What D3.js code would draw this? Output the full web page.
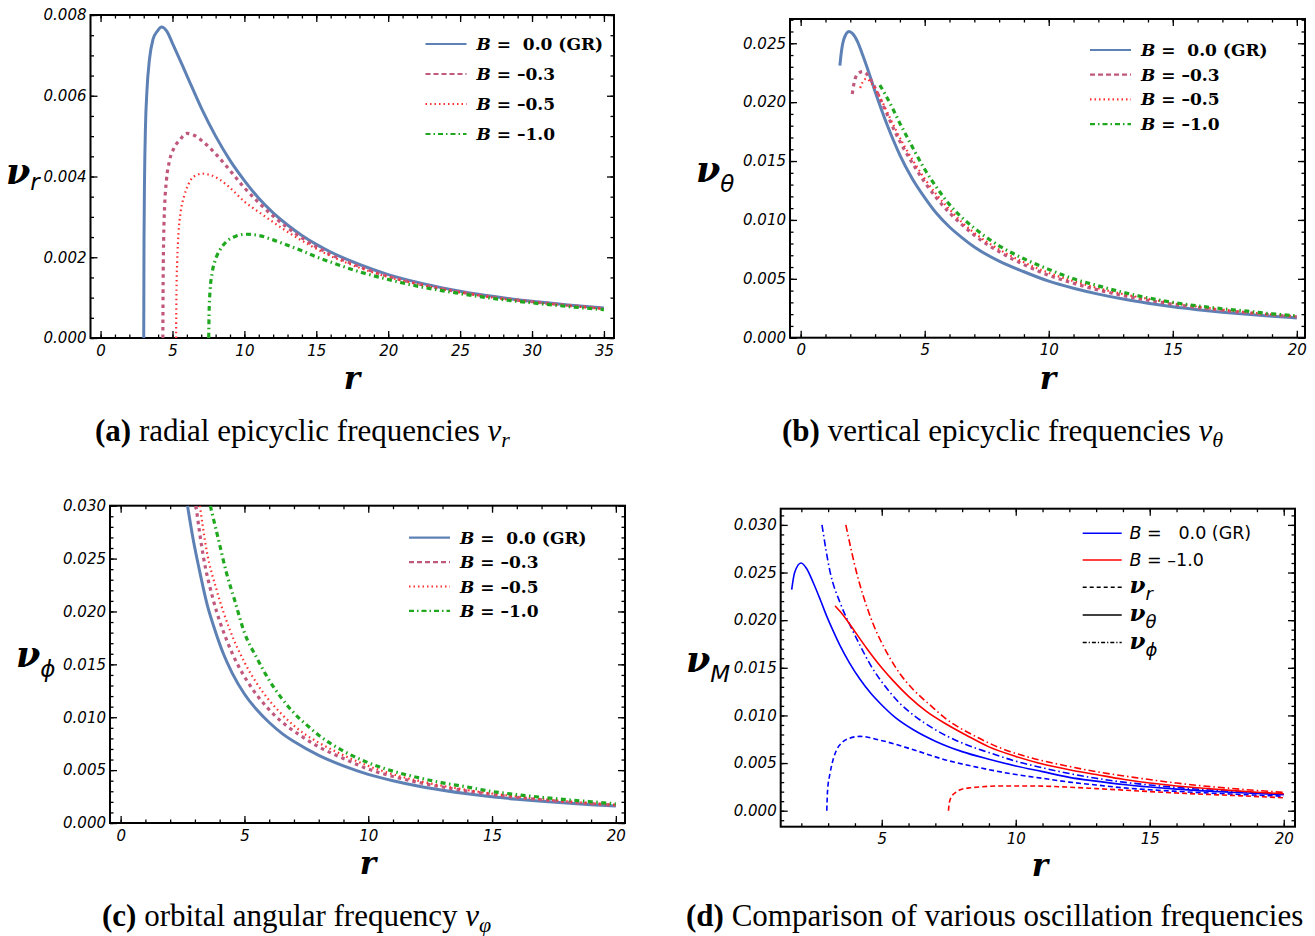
<!DOCTYPE html>
<html>
<head>
<meta charset="utf-8">
<script src="https://cdn.jsdelivr.net/npm/d3@7"></script>
<style>
  body { margin: 0; background: #fff; }
  svg { display: block; }
</style>
</head>
<body>
<script>
var W = 1315, H = 936;

// ---- data: [r, value] ----
// (a) radial epicyclic frequency nu_r
var radialB00 = [[3.0,0],[3.02,0.0024],[3.06,0.004],[3.12,0.0052],[3.22,0.0061],[3.4,0.0069],[3.65,0.0074],[3.95,0.0076],[4.24,0.0077],[4.6,0.0076],[5,0.0073],[6,0.0065],[7,0.0057],[8,0.005],[9,0.0044],[10,0.0039],[11,0.00346],[12,0.0031],[13,0.0028],[14,0.00254],[15,0.00232],[16,0.00213],[18,0.00182],[20,0.00157],[22.5,0.00134],[25,0.00116],[27.5,0.00102],[30,0.00091],[32.5,0.00082],[35,0.00074]];
var radialB03 = [[4.33,0],[4.35,0.0014],[4.39,0.0025],[4.46,0.0033],[4.58,0.0039],[4.8,0.0044],[5.1,0.0047],[5.5,0.0049],[6,0.00507],[6.5,0.00502],[7,0.0049],[8,0.00456],[9,0.00415],[10,0.00372],[11,0.00335],[12,0.00302],[13,0.00273],[14,0.00248],[15,0.00226],[16,0.00207],[18,0.00177],[20,0.00153],[22.5,0.00131],[25,0.00114],[27.5,0.001],[30,0.0009],[32.5,0.00081],[35,0.00073]];
var radialB05 = [[5.25,0],[5.28,0.0012],[5.33,0.0019],[5.42,0.0026],[5.56,0.0031],[5.8,0.0035],[6.1,0.0038],[6.5,0.004],[7.1,0.00407],[7.6,0.00404],[8.3,0.00392],[9,0.00372],[10,0.00338],[11,0.00312],[12,0.00287],[13,0.00263],[14,0.00241],[15,0.00221],[16,0.00203],[18,0.00174],[20,0.00151],[22.5,0.0013],[25,0.00113],[27.5,0.00099],[30,0.00089],[32.5,0.0008],[35,0.00072]];
var radialB10 = [[7.52,0],[7.55,0.0007],[7.62,0.0012],[7.75,0.0016],[7.95,0.0019],[8.3,0.00218],[8.8,0.0024],[9.4,0.00252],[10.1,0.00257],[11,0.00254],[12,0.00243],[13,0.0023],[14,0.00216],[15,0.00201],[16,0.00188],[18,0.00164],[20,0.00145],[22.5,0.00125],[25,0.0011],[27.5,0.00097],[30,0.00087],[32.5,0.00078],[35,0.0007]];

// (b) vertical epicyclic frequency nu_theta
var vertB00 = [[1.58,0.0231],[1.65,0.0244],[1.75,0.0254],[1.95,0.026],[2.1,0.0258],[2.3,0.0251],[2.5,0.024],[2.75,0.0225],[3,0.0209],[3.25,0.0194],[3.5,0.018],[3.75,0.0167],[4,0.0155],[4.5,0.0135],[5,0.0119],[5.5,0.0105],[6,0.0094],[6.5,0.0085],[7,0.0077],[8,0.0065],[9,0.0056],[10,0.0048],[11,0.0042],[12,0.0037],[13,0.00328],[14,0.00293],[15,0.00263],[16,0.00238],[17,0.00216],[18,0.00198],[19,0.00182],[20,0.00168]];
var vertB03 = [[2.08,0.0207],[2.15,0.0216],[2.3,0.0224],[2.5,0.0226],[2.7,0.0223],[2.93,0.0215],[3.2,0.0203],[3.5,0.0189],[3.8,0.0175],[4.2,0.0159],[4.6,0.0145],[5,0.0132],[5.5,0.0118],[6,0.0106],[6.5,0.0096],[7,0.0087],[8,0.0073],[9,0.0062],[10,0.0053],[11,0.00462],[12,0.00405],[13,0.00358],[14,0.00318],[15,0.00284],[16,0.00256],[17,0.00232],[18,0.00211],[19,0.00193],[20,0.00177]];
var vertB05 = [[2.4,0.0212],[2.5,0.0217],[2.66,0.022],[2.85,0.0216],[3.2,0.0204],[3.5,0.0191],[3.8,0.0178],[4.2,0.0162],[4.6,0.0148],[5,0.0135],[5.5,0.0121],[6,0.0109],[6.5,0.0098],[7,0.0089],[8,0.0075],[9,0.0064],[10,0.0055],[11,0.0048],[12,0.0042],[13,0.0037],[14,0.0033],[15,0.00294],[16,0.00264],[17,0.00238],[18,0.00216],[19,0.00197],[20,0.0018]];
var vertB10 = [[3.19,0.02145],[3.4,0.0207],[3.7,0.0195],[4,0.0182],[4.3,0.017],[4.6,0.0158],[5,0.0143],[5.5,0.0127],[6,0.0113],[6.5,0.0102],[7,0.0093],[8,0.0078],[9,0.0067],[10,0.0058],[11,0.005],[12,0.0044],[13,0.00385],[14,0.00338],[15,0.003],[16,0.0027],[17,0.00246],[18,0.00225],[19,0.00203],[20,0.00186]];

// (c) orbital angular frequency nu_phi
var orbB00 = [[2.7,0.03],[2.93,0.0268],[3.2,0.0237],[3.5,0.0206],[3.8,0.0183],[4.15,0.016],[4.5,0.0142],[5,0.0122],[5.5,0.0107],[6,0.0095],[6.5,0.0085],[7,0.0077],[8,0.0064],[9,0.0054],[10,0.0046],[11,0.004],[12,0.0035],[13,0.0031],[14,0.00276],[15,0.00248],[16,0.00225],[17,0.00205],[18,0.00188],[19,0.00173],[20,0.0016]];
var orbB03 = [[3.04,0.03],[3.34,0.0252],[3.74,0.0211],[4.28,0.0173],[4.7,0.0151],[5.09,0.0135],[5.6,0.0118],[6.17,0.0103],[6.7,0.0092],[7.24,0.0083],[8,0.0072],[9,0.0061],[10,0.0051],[11,0.0044],[12,0.00385],[13,0.0034],[14,0.00302],[15,0.0027],[16,0.00243],[17,0.0022],[18,0.002],[19,0.00183],[20,0.00168]];
var orbB05 = [[3.2,0.03],[3.47,0.0258],[3.88,0.022],[4.42,0.0182],[5,0.0152],[5.5,0.0132],[6,0.0116],[6.5,0.0103],[7,0.0092],[7.5,0.0083],[8,0.0076],[9,0.0064],[10,0.0054],[11,0.0046],[12,0.004],[13,0.00352],[14,0.00312],[15,0.00278],[16,0.0025],[17,0.00226],[18,0.00205],[19,0.00187],[20,0.00171]];
var orbB10 = [[3.62,0.03],[3.95,0.0268],[4.28,0.0236],[4.6,0.0211],[5,0.018],[5.5,0.0156],[6,0.0135],[6.5,0.0118],[7,0.0104],[7.5,0.0093],[8,0.0083],[9,0.0068],[10,0.0057],[11,0.0049],[12,0.0043],[13,0.0038],[14,0.0034],[15,0.00298],[16,0.00268],[17,0.00243],[18,0.00221],[19,0.00201],[20,0.00181]];

// (d) comparison, B = 0 (GR) and B = -1
var cmpThetaGR = [[1.64,0.0232],[1.75,0.025],[1.99,0.026],[2.2,0.0254],[2.45,0.0239],[2.7,0.0222],[2.95,0.0204],[3.2,0.0188],[3.45,0.0173],[3.8,0.0155],[4.19,0.0138],[4.6,0.0123],[5,0.0111],[5.5,0.0098],[6.18,0.0085],[7,0.0073],[8,0.0062],[9,0.0054],[10,0.0047],[11,0.0041],[12,0.0035],[13,0.0031],[14,0.00275],[15,0.00248],[16,0.00226],[17,0.00208],[18,0.00193],[19,0.0018],[20,0.00168]];
var cmpPhiGR = [[2.77,0.03],[3.07,0.0251],[3.45,0.0218],[3.83,0.0194],[4.2,0.0173],[4.6,0.0152],[5.2,0.0128],[5.7,0.0112],[6.2,0.01],[7,0.0085],[8,0.0071],[9,0.0061],[10,0.0052],[11,0.0045],[12,0.0039],[13,0.0034],[14,0.003],[15,0.0027],[16,0.00244],[17,0.00222],[18,0.00203],[19,0.00187],[20,0.00173]];
var cmpRadGR = [[2.95,0],[2.98,0.0022],[3.07,0.0039],[3.2,0.0055],[3.32,0.0064],[3.5,0.0071],[3.7,0.0075],[4.19,0.0078],[4.94,0.0074],[6.18,0.0064],[7.42,0.0053],[8.5,0.0046],[9.78,0.0039],[11,0.0034],[12,0.003],[13,0.0027],[14,0.0024],[15,0.0022],[16,0.00203],[17,0.00188],[18,0.00175],[19,0.00163],[20,0.00152]];
var cmpThetaB10 = [[3.26,0.0215],[3.45,0.0209],[3.7,0.02],[4,0.0188],[4.45,0.017],[5,0.015],[5.44,0.0136],[6,0.012],[6.68,0.0104],[7.4,0.0091],[8.17,0.0079],[9,0.0067],[10,0.0057],[11,0.0049],[12,0.0043],[13,0.0038],[14,0.0033],[15,0.0029],[16,0.0026],[17,0.00235],[18,0.00213],[19,0.00194],[20,0.00178]];
var cmpPhiB10 = [[3.66,0.03],[4.07,0.0249],[4.57,0.0204],[5.19,0.0166],[5.7,0.0143],[6.18,0.0127],[6.8,0.0111],[7.42,0.0096],[8.5,0.0078],[9.41,0.0066],[10.5,0.0056],[11.9,0.0047],[13,0.0041],[14.4,0.0035],[16,0.0029],[17,0.0026],[18,0.00235],[19,0.00212],[20,0.00192]];
var cmpRadB10 = [[7.49,0],[7.52,0.0008],[7.61,0.0015],[7.75,0.0019],[7.93,0.0022],[8.3,0.0024],[8.68,0.0025],[9.41,0.0026],[10.5,0.0026],[11.9,0.00248],[13,0.00232],[14.4,0.0021],[16,0.00186],[17,0.00173],[18.5,0.00155],[20,0.00135]];

var legendB = ["0.0 (GR)", "\u20130.3", "\u20130.5", "\u20131.0"];

// line styles for the four B values (panels a-c)
var sty = [
  {color: "#5E81B5", width: 3, dash: null},
  {color: "#C0587E", width: 3.2, dash: "3.5,4"},
  {color: "#FF3030", width: 2.2, dash: "1.5,3.2"},
  {color: "#1FA81F", width: 3.2, dash: "5,3.5,1.5,3.5"}
];

var svg = d3.select("body").append("svg")
  .attr("width", W).attr("height", H);

function drawFrame(p) {
  var x = d3.scaleLinear().domain(p.xd).range([p.left, p.right]);
  var y = d3.scaleLinear().domain(p.yd).range([p.bottom, p.top]);
  var g = svg.append("g");

  // minor ticks on all sides
  var xMinor = d3.range(Math.ceil(p.xd[0]), p.xd[1] + 1e-9, p.xMinor);
  var yMinor = d3.range(0, p.yd[1] + 1e-9, p.yMinor).concat(p.yd[0] < 0 ? [-p.yMinor] : []);
  yMinor = yMinor.filter(function(v) { return v >= p.yd[0] && v <= p.yd[1]; });
  xMinor = xMinor.filter(function(v) { return v >= p.xd[0] && v <= p.xd[1]; });

  function axis(gen, scale, vals, size, fmt, tr, pad) {
    var a = gen(scale).tickValues(vals).tickSize(-size).tickPadding(pad || 5)
      .tickFormat(fmt || "");
    var ga = g.append("g").attr("transform", tr).call(a);
    ga.select(".domain").remove();
    ga.selectAll("line").attr("stroke", "#000").attr("stroke-width", 1.3);
    ga.selectAll("text").attr("font-family", "DejaVu Sans").attr("font-style", "italic")
      .attr("font-size", 15).attr("fill", "#000");
    return ga;
  }
  var fx = d3.format("d"), fy = d3.format(".3f");
  axis(d3.axisBottom, x, xMinor, 3.5, null, "translate(0," + p.bottom + ")");
  axis(d3.axisTop, x, xMinor, 3.5, null, "translate(0," + p.top + ")");
  axis(d3.axisLeft, y, yMinor, 3.5, null, "translate(" + p.left + ",0)");
  axis(d3.axisRight, y, yMinor, 3.5, null, "translate(" + p.right + ",0)");
  axis(d3.axisBottom, x, p.xTicks, 7, fx, "translate(0," + p.bottom + ")", 7);
  axis(d3.axisTop, x, p.xTicks, 7, null, "translate(0," + p.top + ")");
  axis(d3.axisLeft, y, p.yTicks, 7, fy, "translate(" + p.left + ",0)", 4);
  axis(d3.axisRight, y, p.yTicks, 7, null, "translate(" + p.right + ",0)");

  g.append("rect")
    .attr("x", p.left).attr("y", p.top)
    .attr("width", p.right - p.left).attr("height", p.bottom - p.top)
    .attr("fill", "none").attr("stroke", "#000").attr("stroke-width", 2);

  var cid = "clip" + p.id;
  svg.append("clipPath").attr("id", cid).append("rect")
    .attr("x", p.left).attr("y", p.top)
    .attr("width", p.right - p.left).attr("height", p.bottom - p.top);

  var line = d3.line()
    .x(function(d) { return x(d[0]); })
    .y(function(d) { return y(d[1]); })
    .curve(d3.curveMonotoneX);

  var gl = svg.append("g").attr("clip-path", "url(#" + cid + ")");
  p.series.forEach(function(s) {
    gl.append("path")
      .attr("d", line(s.data))
      .attr("fill", "none")
      .attr("stroke", s.st.color)
      .attr("stroke-width", s.st.width)
      .attr("stroke-dasharray", s.st.dash)
      .attr("stroke-linejoin", "round");
  });

  // x title
  svg.append("text")
    .attr("x", p.rx).attr("y", p.ry)
    .attr("text-anchor", "middle")
    .attr("font-family", "DejaVu Serif").attr("font-weight", "bold").attr("font-style", "italic")
    .attr("font-size", 31).text("r");

  // y title nu_sub
  var t = svg.append("text").attr("x", p.nx).attr("y", p.ny)
    .attr("font-family", "DejaVu Serif").attr("font-size", 35).attr("font-weight", "bold")
    .attr("font-style", "italic");
  t.append("tspan").text("\u03bd");
  t.append("tspan").attr("dy", p.subDy).attr("font-family", "DejaVu Sans").attr("font-weight", "normal")
    .attr("font-size", 23).text(p.sub);

  return {x: x, y: y};
}

function legendBs(lx, ly, dy) {
  legendB.forEach(function(lb, i) {
    var yy = ly + i * dy;
    svg.append("line")
      .attr("x1", lx).attr("x2", lx + 41).attr("y1", yy).attr("y2", yy)
      .attr("stroke", sty[i].color).attr("stroke-width", 2.2)
      .attr("stroke-dasharray", i === 1 ? "5,3" : i === 2 ? "1.5,3" : i === 3 ? "5,3,1.5,3" : null);
    var t = svg.append("text").attr("x", lx + 51).attr("y", yy + 6)
      .attr("font-family", "DejaVu Serif").attr("font-weight", "bold").attr("font-size", 17)
      .attr("xml:space", "preserve");
    t.append("tspan").attr("font-style", "italic").text("B");
    t.append("tspan").text(i === 0 ? " =  " + lb : " = " + lb);
  });
}

function caption(x, y, tag, body, sub) {
  var t = svg.append("text").attr("x", x).attr("y", y)
    .attr("font-family", "Liberation Serif").attr("font-size", 31).attr("fill", "#000");
  t.append("tspan").attr("font-weight", "bold").text("(" + tag + ")");
  t.append("tspan").text(" " + body + " ");
  t.append("tspan").attr("font-style", "italic").text("\u03bd");
  t.append("tspan").attr("font-style", "italic").attr("font-size", 22).attr("dy", 6).text(sub);
}

// (a)
drawFrame({id: "a", left: 90.5, right: 614, top: 15, bottom: 338,
  xd: [-0.7, 35.7], yd: [0, 0.008], xMinor: 1, yMinor: 0.0005,
  xTicks: d3.range(0, 36, 5), yTicks: d3.range(0, 0.0081, 0.002),
  series: [radialB00, radialB03, radialB05, radialB10].map(function(d, i) { return {data: d, st: sty[i]}; }),
  rx: 352, ry: 389, nx: 6, ny: 184, sub: "r", subDy: 6});
legendBs(425.5, 44, 30);
caption(95, 441, "a", "radial epicyclic frequencies", "r");

// (b)
drawFrame({id: "b", left: 790, right: 1305, top: 19, bottom: 337.7,
  xd: [-0.43, 20.33], yd: [0, 0.02706], xMinor: 1, yMinor: 0.001,
  xTicks: d3.range(0, 21, 5), yTicks: d3.range(0, 0.0251, 0.005),
  series: [vertB00, vertB03, vertB05, vertB10].map(function(d, i) { return {data: d, st: sty[i]}; }),
  rx: 1048, ry: 389, nx: 696, ny: 182, sub: "\u03b8", subDy: 10});
legendBs(1090, 50, 24.7);
caption(782, 441, "b", "vertical epicyclic frequencies", "\u03b8");

// (c)
drawFrame({id: "c", left: 110, right: 625, top: 505.7, bottom: 823,
  xd: [-0.43, 20.37], yd: [0, 0.030], xMinor: 1, yMinor: 0.001,
  xTicks: d3.range(0, 21, 5), yTicks: d3.range(0, 0.0301, 0.005),
  series: [orbB00, orbB03, orbB05, orbB10].map(function(d, i) { return {data: d, st: sty[i]}; }),
  rx: 368, ry: 874, nx: 16, ny: 667, sub: "\u03d5", subDy: 10});
legendBs(409, 537.7, 24.4);
caption(102, 926, "c", "orbital angular frequency", "\u03c6");

// (d)
var cmpStyles = {
  rGR: {color: "#0000FF", width: 1.6, dash: "5,3"},
  tGR: {color: "#0000FF", width: 1.6, dash: null},
  pGR: {color: "#0000FF", width: 1.6, dash: "7,3,1.5,3"},
  rB: {color: "#FF0000", width: 1.6, dash: "5,3"},
  tB: {color: "#FF0000", width: 1.6, dash: null},
  pB: {color: "#FF0000", width: 1.6, dash: "7,3,1.5,3"}
};
drawFrame({id: "d", left: 780.7, right: 1295, top: 508.7, bottom: 826.7,
  xd: [1.23, 20.42], yd: [-0.00168, 0.0317], xMinor: 1, yMinor: 0.001,
  xTicks: [5, 10, 15, 20], yTicks: d3.range(0, 0.0301, 0.005),
  series: [
    {data: cmpRadGR, st: cmpStyles.rGR}, {data: cmpThetaGR, st: cmpStyles.tGR}, {data: cmpPhiGR, st: cmpStyles.pGR},
    {data: cmpRadB10, st: cmpStyles.rB}, {data: cmpThetaB10, st: cmpStyles.tB}, {data: cmpPhiB10, st: cmpStyles.pB}
  ],
  rx: 1040, ry: 876, nx: 686, ny: 672, sub: "M", subDy: 10});

var legD = [
  {c: "#0000FF", dash: null, label: "B", rest: " =   0.0 (GR)"},
  {c: "#FF0000", dash: null, label: "B", rest: " = \u20131.0"},
  {c: "#000", dash: "4,3", nu: "r"},
  {c: "#000", dash: null, nu: "\u03b8"},
  {c: "#000", dash: "4,2,1.2,2", nu: "\u03d5"}
];
var legDy = [533.3, 560, 587.3, 615, 642.5];
legD.forEach(function(l, i) {
  var yy = legDy[i];
  svg.append("line").attr("x1", 1082.7).attr("x2", 1121.7).attr("y1", yy).attr("y2", yy)
    .attr("stroke", l.c).attr("stroke-width", 1.6).attr("stroke-dasharray", l.dash);
  var t = svg.append("text").attr("x", 1129.5).attr("y", yy + 6)
    .attr("font-family", "DejaVu Sans").attr("font-size", 17.5).attr("xml:space", "preserve");
  if (l.label) {
    t.append("tspan").attr("font-style", "italic").text(l.label);
    t.append("tspan").text(l.rest);
  } else {
    t.append("tspan").attr("font-family", "DejaVu Serif").attr("font-weight", "bold")
      .attr("font-style", "italic").attr("font-size", 23).text("\u03bd");
    t.append("tspan").attr("font-style", "italic").attr("font-size", 18).attr("dy", 7).text(l.nu);
  }
});
var cd = svg.append("text").attr("x", 686).attr("y", 926)
  .attr("font-family", "Liberation Serif").attr("font-size", 31);
cd.append("tspan").attr("font-weight", "bold").text("(d)");
cd.append("tspan").text(" Comparison of various oscillation frequencies");
</script>
</body>
</html>
